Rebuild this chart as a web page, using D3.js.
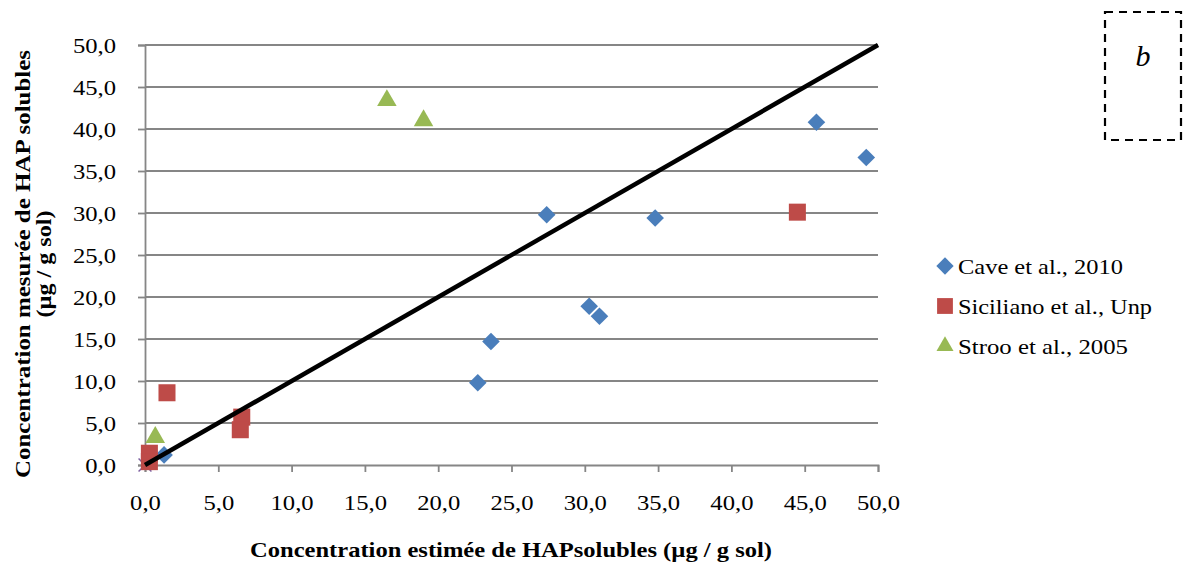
<!DOCTYPE html>
<html>
<head>
<meta charset="utf-8">
<script src="https://cdn.jsdelivr.net/npm/d3@7"></script>
<style>
  body { margin: 0; background: #fff; }
</style>
</head>
<body>
<svg id="chart" width="1184" height="568"></svg>
<script>
  // series
  let caveX = [1.3, 22.7, 23.6, 27.4, 34.8, 30.3, 31.0, 45.8, 49.2];
  let caveY = [1.2, 9.8, 14.7, 29.8, 29.4, 18.9, 17.7, 40.8, 36.6];

  let sicilianoX = [0.3, 0.3, 1.5, 6.6, 6.5, 44.5];
  let sicilianoY = [1.4, 0.4, 8.6, 5.7, 4.2, 30.1];

  let strooX = [0.7, 16.5, 19.0];
  let strooY = [3.3, 43.4, 41.0];

  let otherX = [0.0];
  let otherY = [0.0];

  let lineX = [0, 50];
  let lineY = [0, 50];

  let ticks = [0, 5, 10, 15, 20, 25, 30, 35, 40, 45, 50];
  let legendNames = ["Cave et al., 2010", "Siciliano et al., Unp", "Stroo et al., 2005"];

  let fmt = d => d3.format(".1f")(d).replace(".", ",");
  let serif = '"Liberation Serif", "Times New Roman", "DejaVu Serif", serif';

  let margin = {left: 145, right: 306, top: 45, bottom: 103};
  let svg = d3.select("#chart");
  let W = 1184, H = 568;

  let x = d3.scaleLinear().domain([0, 50]).range([margin.left, W - margin.right]);
  let y = d3.scaleLinear().domain([0, 50]).range([H - margin.bottom, margin.top]);

  let grey = "#868686";

  // widen text like the original (stretched Times)
  function stretch(sel, k) {
    sel.each(function() {
      let w = this.getComputedTextLength();
      d3.select(this).attr("textLength", w * k).attr("lengthAdjust", "spacingAndGlyphs");
    });
  }

  // horizontal grid
  svg.append("g").selectAll("line")
    .data(ticks.slice(1))
    .enter().append("line")
    .attr("x1", x(0)).attr("x2", x(50))
    .attr("y1", d => y(d)).attr("y2", d => y(d))
    .attr("stroke", grey).attr("stroke-width", 1.8);

  let yAxis = svg.append("g")
    .attr("transform", "translate(" + x(0) + ",0)")
    .call(d3.axisLeft(y).tickValues(ticks).tickFormat(fmt).tickSize(7).tickPadding(22));
  yAxis.select(".domain").attr("stroke", grey).attr("stroke-width", 1.8);
  yAxis.selectAll(".tick line").attr("stroke", grey).attr("stroke-width", 1.8);

  let xAxis = svg.append("g")
    .attr("transform", "translate(0," + y(0) + ")")
    .call(d3.axisBottom(x).tickValues(ticks).tickFormat(fmt).tickSize(7).tickPadding(22));
  xAxis.select(".domain").attr("stroke", grey).attr("stroke-width", 1.8);
  xAxis.selectAll(".tick line").attr("stroke", grey).attr("stroke-width", 1.8);

  svg.selectAll(".tick text")
    .attr("font-family", null).attr("font-size", null)
    .style("font-family", serif).style("font-size", "22px").style("fill", "#000");
  svg.selectAll(".tick").attr("font-family", null);
  yAxis.attr("font-family", serif);
  xAxis.attr("font-family", serif);
  stretch(svg.selectAll(".tick text"), 1.12);

  // markers
  function pts(xs, ys) { return xs.map((d, i) => ({x: d, y: ys[i]})); }

  svg.append("g").selectAll("path")
    .data(pts(otherX, otherY))
    .enter().append("path")
    .attr("transform", d => "translate(" + x(d.x) + "," + y(d.y) + ")")
    .attr("d", d3.symbol(d3.symbolX, 110))
    .attr("stroke", "#7d60a0").attr("stroke-width", 1.5).attr("fill", "none");

  svg.append("g").selectAll("path")
    .data(pts(caveX, caveY))
    .enter().append("path")
    .attr("transform", d => "translate(" + x(d.x) + "," + y(d.y) + ") rotate(45)")
    .attr("d", d3.symbol(d3.symbolSquare, 155))
    .attr("fill", "#4a7ebb");

  svg.append("g").selectAll("path")
    .data(pts(sicilianoX, sicilianoY))
    .enter().append("path")
    .attr("transform", d => "translate(" + x(d.x) + "," + y(d.y) + ")")
    .attr("d", d3.symbol(d3.symbolSquare, 290))
    .attr("fill", "#be4b48");

  svg.append("g").selectAll("path")
    .data(pts(strooX, strooY))
    .enter().append("path")
    .attr("transform", d => "translate(" + x(d.x) + "," + y(d.y) + ")")
    .attr("d", d3.symbol(d3.symbolTriangle, 165))
    .attr("fill", "#98b954");

  // 1:1 line
  svg.append("path")
    .datum(pts(lineX, lineY))
    .attr("d", d3.line().x(d => x(d.x)).y(d => y(d.y)))
    .attr("stroke", "#000").attr("stroke-width", 4.5).attr("fill", "none");

  // axis titles
  svg.append("text")
    .attr("x", 511).attr("y", 557).attr("text-anchor", "middle")
    .style("font-family", serif).style("font-size", "22px").style("font-weight", "bold")
    .attr("textLength", 522).attr("lengthAdjust", "spacingAndGlyphs")
    .text("Concentration estimée de HAPsolubles (µg / g sol)");

  let yt = svg.append("g").attr("transform", "translate(0,264) rotate(-90)")
    .style("font-family", serif).style("font-size", "21px").style("font-weight", "bold");
  yt.append("text").attr("x", 0).attr("y", 30).attr("text-anchor", "middle")
    .attr("textLength", 428).attr("lengthAdjust", "spacingAndGlyphs")
    .text("Concentration mesurée de HAP solubles");
  let yt2 = yt.append("text").attr("x", 0).attr("y", 51).attr("text-anchor", "middle")
    .text("(µg / g sol)");
  stretch(yt2, 1.15);

  // legend
  let leg = svg.append("g");
  let legShapes = [
    {sym: d3.symbolSquare, size: 150, rot: 45, color: "#4a7ebb", w: 165},
    {sym: d3.symbolSquare, size: 250, rot: 0, color: "#be4b48", w: 194},
    {sym: d3.symbolTriangle, size: 125, rot: 0, color: "#98b954", w: 170}
  ];
  legendNames.forEach(function(name, i) {
    let cy = 266 + i * 40;
    leg.append("path")
      .attr("transform", "translate(945," + cy + ") rotate(" + legShapes[i].rot + ")")
      .attr("d", d3.symbol(legShapes[i].sym, legShapes[i].size))
      .attr("fill", legShapes[i].color);
    leg.append("text")
      .attr("x", 958).attr("y", cy + 8)
      .style("font-family", serif).style("font-size", "22px")
      .attr("textLength", legShapes[i].w).attr("lengthAdjust", "spacingAndGlyphs")
      .text(name);
  });

  // panel label
  svg.append("rect")
    .attr("x", 1105).attr("y", 12).attr("width", 76).attr("height", 128)
    .attr("fill", "none").attr("stroke", "#000").attr("stroke-width", 2.2)
    .attr("stroke-dasharray", "8,6");
  svg.append("text")
    .attr("x", 1143).attr("y", 66).attr("text-anchor", "middle")
    .style("font-family", serif).style("font-size", "30px").style("font-style", "italic")
    .text("b");
</script>
</body>
</html>
